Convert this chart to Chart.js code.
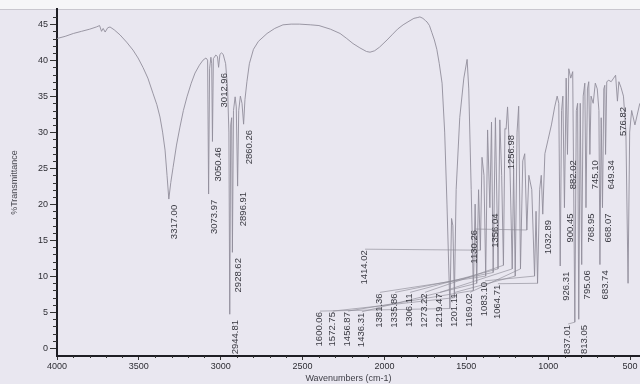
<!DOCTYPE html>
<html>
<head>
<meta charset="utf-8">
<script src="https://cdn.jsdelivr.net/npm/chart.js@4/dist/chart.umd.min.js"></script>
<style>
  html, body { margin: 0; padding: 0; background: #e9e7f0; }
  #wrap { width: 640px; height: 384px; }
</style>
</head>
<body>
<div id="wrap"><canvas id="c" width="640" height="384"></canvas></div>
<script>
// ---- data ----
const wavenumbers = [
  4000, 3950, 3900, 3850, 3800, 3760, 3740, 3728, 3718, 3706, 3690, 3676, 3650, 3615, 3575, 3536, 3505, 3475, 3445, 3414,
  3390, 3371, 3355, 3340, 3328, 3317.00, 3305, 3291, 3270, 3249, 3228, 3206, 3180, 3157, 3130, 3108, 3090, 3080, 3073.97, 3068,
  3060, 3055, 3050.46, 3045, 3030, 3020, 3012.96, 3005, 2995, 2985, 2970, 2958, 2950, 2944.81, 2939, 2933, 2928.62, 2922, 2912, 2905,
  2896.91, 2890, 2880, 2870, 2860.26, 2852, 2840, 2825, 2800, 2770, 2717, 2670, 2620, 2570, 2520, 2450, 2400, 2330, 2271, 2230,
  2192, 2150, 2110, 2088, 2060, 2030, 1984, 1950, 1920, 1886, 1850, 1820, 1800, 1783, 1765, 1750, 1740, 1725, 1710, 1695,
  1680, 1665, 1648, 1632, 1618, 1600.06, 1590, 1582, 1572.75, 1562, 1540, 1515, 1495, 1485, 1470, 1456.87, 1446, 1436.31, 1425, 1414.02,
  1404, 1392, 1381.36, 1370, 1356.04, 1346, 1335.86, 1322, 1306.11, 1295, 1284, 1273.22, 1264, 1256.98, 1248, 1235, 1219.47, 1211, 1201.11, 1190,
  1180, 1169.02, 1155, 1143, 1130.26, 1118, 1100, 1083.10, 1074, 1064.71, 1052, 1042, 1032.89, 1020, 1000, 980, 960, 945, 935, 926.31,
  918, 910, 900.45, 890, 882.02, 874, 862, 850, 837.01, 828, 820, 813.05, 804, 795.06, 786, 776, 768.95, 760, 752, 745.10,
  738, 725, 712, 700, 690, 683.74, 676, 668.07, 660, 654, 649.34, 642, 630, 615, 600, 588, 576.82, 568, 555, 540,
  525, 512, 502, 490, 470, 440
];
const transmittance = [
  43.0, 43.3, 43.7, 44.0, 44.3, 44.6, 44.8, 44.0, 44.4, 43.9, 44.5, 44.6, 44.2, 43.5, 42.5, 41.4, 40.3, 39.0, 37.5, 35.4,
  33.8, 32.1, 30.0, 27.5, 24.0, 20.7, 23.0, 25.1, 28.2, 30.7, 33.0, 34.9, 36.8, 38.2, 39.3, 40.0, 40.3, 40.0, 21.4, 38.8,
  40.4, 39.5, 28.7, 40.2, 40.7, 40.5, 39.0, 40.8, 41.0, 40.8, 39.5, 36.0, 30.0, 4.7, 31.0, 32.0, 13.3, 33.0, 34.9, 33.5,
  22.5, 33.0, 35.0, 34.0, 31.1, 34.5, 37.0, 39.5, 41.5, 42.6, 43.7, 44.4, 44.9, 45.0, 45.0, 44.9, 44.8, 44.3, 43.7, 43.0,
  42.3, 41.7, 41.2, 41.1, 41.3, 41.8, 42.8, 43.6, 44.3, 44.9, 45.4, 45.8, 45.9, 46.0, 45.8, 45.5, 45.3, 44.8, 43.8, 42.8,
  41.5, 39.5, 36.8, 30.0, 20.0, 5.5, 18.0, 17.0, 7.0, 22.0, 32.0, 37.5, 40.1, 36.0, 22.0, 8.0, 20.0, 9.0, 22.0, 13.6,
  26.5, 24.0, 10.0, 30.3, 19.5, 31.4, 10.5, 32.0, 11.0, 31.7, 24.0, 11.5, 30.5, 30.4, 33.5, 27.0, 11.0, 25.0, 10.0, 30.0,
  33.6, 11.0, 26.0, 27.0, 16.4, 24.0, 22.0, 10.0, 19.0, 9.0, 22.0, 24.0, 18.6, 27.0, 29.0, 31.0, 33.5, 35.0, 34.0, 11.4,
  33.0, 35.0, 19.5, 37.5, 26.9, 38.8, 37.5, 38.4, 3.6, 33.0, 34.0, 4.0, 34.0, 11.6, 35.0, 36.8, 19.5, 36.0, 37.0, 26.9,
  35.0, 34.0, 36.8, 36.0, 33.0, 11.6, 32.0, 19.5, 36.0, 36.5, 26.9, 37.0, 37.2, 37.0, 37.5, 37.9, 34.3, 37.0, 36.2, 35.0,
  30.0, 9.0, 30.0, 33.0, 31.0, 34.0
];
// labelled peaks (wavenumber, cm-1)
const peakWn = [
  3317.00, 3073.97, 3050.46, 3012.96, 2944.81, 2928.62, 2896.91, 2860.26,
  1600.06, 1572.75, 1456.87, 1436.31, 1414.02, 1381.36, 1356.04, 1335.86, 1306.11, 1273.22, 1256.98,
  1219.47, 1201.11, 1169.02, 1130.26, 1083.10, 1064.71, 1032.89,
  926.31, 900.45, 882.02, 837.01, 813.05, 795.06, 768.95, 745.10, 683.74, 668.07, 649.34, 576.82
];
// where a displaced label sits (data units); null = label directly under its peak
const labelWn = [
  null, null, null, null, null, null, null, null,
  2424, 2345, 2253, 2168, 2149, 2058, null, 1966, 1874, 1783, null,
  1691, 1600, 1508, 1477, 1416, 1337, null,
  null, null, null, 909, null, null, null, null, null, null, null, null
];
const labelT = [
  null, null, null, null, null, null, null, null,
  5.0, 5.0, 5.0, 4.9, 13.6, 7.6, null, 7.6, 7.6, 7.6, null,
  7.6, 7.6, 7.6, 16.4, 9.2, 8.8, null,
  null, null, null, 3.2, null, null, null, null, null, null, null, null
];
const xTicks = [4000, 3500, 3000, 2500, 2000, 1500, 1000, 500];
const yTicks = [0, 5, 10, 15, 20, 25, 30, 35, 40, 45];

// ---- plugins ----
const paperPlugin = {
  id: 'paper',
  beforeDraw(chart) {
    const {ctx, chartArea} = chart;
    ctx.save();
    ctx.fillStyle = '#e9e7f0';
    ctx.fillRect(0, 0, chart.width, chart.height);
    ctx.fillStyle = '#f6f6f8';
    ctx.fillRect(0, 0, chart.width, chartArea.top);
    ctx.strokeStyle = '#c9c7cf';
    ctx.lineWidth = 1;
    ctx.beginPath();
    ctx.moveTo(0, chartArea.top + 0.5);
    ctx.lineTo(chart.width, chartArea.top + 0.5);
    ctx.stroke();
    ctx.restore();
  }
};

const minorTicksPlugin = {
  id: 'minorTicks',
  afterDraw(chart) {
    const {ctx, chartArea} = chart;
    const xs = chart.scales.x, ys = chart.scales.y;
    ctx.save();
    ctx.strokeStyle = '#333';
    ctx.lineWidth = 1;
    ctx.beginPath();
    for (let v = 0; v <= 46; v++) {
      if (v % 5 === 0) continue;
      const y = Math.round(ys.getPixelForValue(v)) + 0.5;
      ctx.moveTo(chartArea.left - 4, y);
      ctx.lineTo(chartArea.left, y);
    }
    for (let v = 500; v <= 4000; v += 100) {
      if (v % 500 === 0) continue;
      const x = Math.round(xs.getPixelForValue(v)) + 0.5;
      ctx.moveTo(x, chartArea.bottom);
      ctx.lineTo(x, chartArea.bottom + 2);
    }
    ctx.stroke();
    ctx.restore();
  }
};

const peakLabelPlugin = {
  id: 'peakLabels',
  afterDatasetsDraw(chart) {
    const {ctx} = chart;
    const xs = chart.scales.x, ys = chart.scales.y;
    ctx.save();
    ctx.font = '9.5px "Liberation Sans", Arial, sans-serif';
    ctx.textAlign = 'right';
    ctx.textBaseline = 'top';
    peakWn.forEach((wn, i) => {
      const idx = wavenumbers.indexOf(wn);
      const t = transmittance[idx];
      const px = xs.getPixelForValue(wn);
      const py = ys.getPixelForValue(t);
      let ax, ay;
      if (labelWn[i] === null) {
        ax = px + 1;
        ay = ys.getPixelForValue(t - 0.8);
      } else {
        ax = xs.getPixelForValue(labelWn[i]);
        ay = ys.getPixelForValue(labelT[i]);
        ctx.strokeStyle = 'rgba(140,138,150,0.8)';
        ctx.lineWidth = 0.8;
        ctx.beginPath();
        ctx.moveTo(ax + 5, ay - 1);
        ctx.lineTo(px, py);
        ctx.stroke();
      }
      ctx.save();
      ctx.translate(ax, ay);
      ctx.rotate(-Math.PI / 2);
      ctx.fillStyle = '#3a3a42';
      ctx.fillText(wn.toFixed(2), 0, 0);
      ctx.restore();
    });
    ctx.restore();
  }
};

// ---- chart ----
const points = wavenumbers.map((w, i) => ({x: w, y: transmittance[i]}));

new Chart(document.getElementById('c'), {
  type: 'line',
  data: {
    datasets: [{
      data: points,
      borderColor: 'rgba(145,142,155,0.9)',
      borderWidth: 1,
      pointRadius: 0,
      tension: 0,
      fill: false
    }]
  },
  options: {
    responsive: false,
    animation: false,
    devicePixelRatio: 1,
    layout: { padding: { top: 9, right: 0, left: 0, bottom: 0 } },
    plugins: { legend: { display: false }, tooltip: { enabled: false } },
    scales: {
      x: {
        type: 'linear',
        reverse: true,
        min: 439,
        max: 4000,
        afterBuildTicks: s => { s.ticks = xTicks.map(v => ({value: v})); },
        afterFit: s => { s.height = 28; },
        ticks: {
          autoSkip: false, maxRotation: 0, padding: 1,
          color: '#2e2e34',
          font: { family: '"Liberation Sans", Arial, sans-serif', size: 9 },
          callback: v => String(v)
        },
        grid: { drawOnChartArea: false, drawTicks: true, tickLength: 4, color: '#333' },
        border: { display: true, color: '#1e1e24', width: 2 },
        title: {
          display: true, text: 'Wavenumbers (cm-1)', color: '#3e3e46',
          font: { family: '"Liberation Sans", Arial, sans-serif', size: 9 },
          padding: { top: 0, bottom: 0 }
        }
      },
      y: {
        type: 'linear',
        min: -1.1,
        max: 47.1,
        afterBuildTicks: s => { s.ticks = yTicks.map(v => ({value: v})); },
        afterFit: s => { s.width = 57; },
        ticks: {
          padding: 2,
          color: '#2e2e34',
          font: { family: '"Liberation Sans", Arial, sans-serif', size: 9 },
          callback: v => String(v)
        },
        grid: { drawOnChartArea: false, drawTicks: true, tickLength: 7, color: '#333' },
        border: { display: true, color: '#1e1e24', width: 2 },
        title: {
          display: true, text: '%Transmittance', color: '#4a4a52',
          font: { family: '"Liberation Sans", Arial, sans-serif', size: 9 },
          padding: { top: 9, bottom: 0 }
        }
      }
    }
  },
  plugins: [paperPlugin, minorTicksPlugin, peakLabelPlugin]
});
</script>
</body>
</html>
